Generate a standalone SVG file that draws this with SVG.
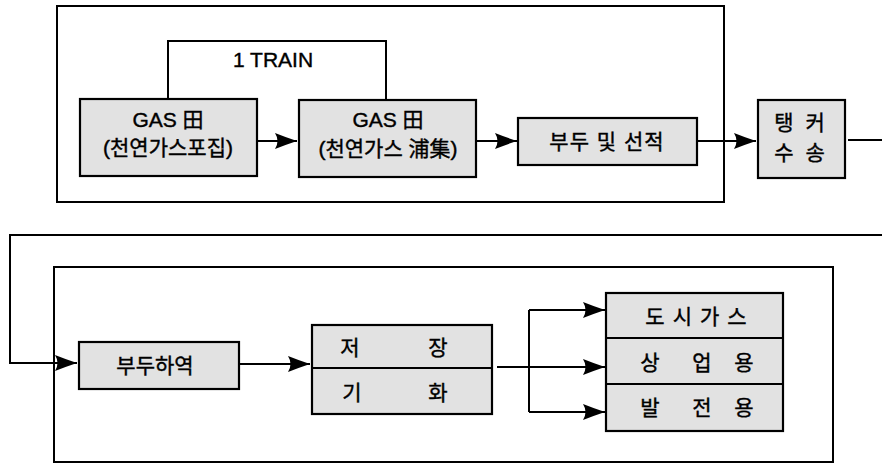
<svg xmlns="http://www.w3.org/2000/svg" width="882" height="465" viewBox="0 0 882 465">
<defs>
<style>
.frame{fill:none;stroke:#000;stroke-width:2}
.box{fill:#e2e2e2;stroke:#000;stroke-width:2.2}
.ln{fill:none;stroke:#000;stroke-width:2}
.t{font-family:"Liberation Sans","Noto Sans CJK KR",sans-serif;font-size:21px;fill:#000;stroke:#000;stroke-width:0.4;text-anchor:middle}
</style>
<marker id="ah" markerUnits="userSpaceOnUse" markerWidth="24" markerHeight="18" refX="22" refY="9" orient="auto">
<path d="M0,1 Q10,5 22,9 Q10,13 0,17 Q5,9 0,1 z" fill="#000"/>
</marker>
</defs>
<rect width="882" height="465" fill="#fff"/>
<g id="frames">
<rect class="frame" x="57" y="6" width="667" height="196"/>
<rect class="frame" x="54" y="267" width="779" height="195"/>
</g>
<g id="connectors">
<path class="ln" d="M168,99 V41 H386 V100"/>
<line class="ln" x1="257" y1="141" x2="297" y2="141" marker-end="url(#ah)"/>
<line class="ln" x1="477" y1="141" x2="517" y2="141" marker-end="url(#ah)"/>
<line class="ln" x1="697" y1="141" x2="756" y2="141" marker-end="url(#ah)"/>
<path class="ln" d="M848,140 H882"/>
<path class="ln" d="M882,235 H10 V363 H77" marker-end="url(#ah)"/>
<line class="ln" x1="239" y1="364" x2="310" y2="364" marker-end="url(#ah)"/>
<path class="ln" d="M497,367 H529"/>
<path class="ln" d="M529,310 V412"/>
<line class="ln" x1="529" y1="310" x2="605" y2="310" marker-end="url(#ah)"/>
<line class="ln" x1="529" y1="367" x2="605" y2="367" marker-end="url(#ah)"/>
<line class="ln" x1="529" y1="412" x2="605" y2="412" marker-end="url(#ah)"/>
</g>
<g id="train-label"><text class="t" x="273" y="67">1  TRAIN</text></g>
<g id="n1">
<rect class="box" x="80" y="99" width="177" height="77"/>
<text class="t" x="168" y="127">GAS 田</text>
<text class="t" x="168" y="155">(천연가스포집)</text>
</g>
<g id="n2">
<rect class="box" x="299" y="100" width="177" height="77"/>
<text class="t" x="388" y="127">GAS 田</text>
<text class="t" x="388" y="156">(천연가스 浦集)</text>
</g>
<g id="n3">
<rect class="box" x="518" y="118" width="179" height="47"/>
<text class="t" x="607" y="149" style="letter-spacing:1px">부두 및 선적</text>
</g>
<g id="n4">
<rect class="box" x="758" y="100" width="87" height="78"/>
<text class="t" x="801" y="130" style="letter-spacing:3px">탱 커</text>
<text class="t" x="801" y="160" style="letter-spacing:3px">수 송</text>
</g>
<g id="n5">
<rect class="box" x="79" y="342" width="160" height="47"/>
<text class="t" x="155" y="373">부두하역</text>
</g>
<g id="n6">
<rect class="box" x="312" y="325" width="180" height="89"/>
<line class="ln" x1="312" y1="368" x2="492" y2="368"/>
<text class="t" x="350" y="355">저</text>
<text class="t" x="438" y="355">장</text>
<text class="t" x="352" y="400">기</text>
<text class="t" x="438" y="400">화</text>
</g>
<g id="n7">
<rect class="box" x="606" y="293" width="177" height="138"/>
<line class="ln" x1="606" y1="338" x2="783" y2="338"/>
<line class="ln" x1="606" y1="384" x2="783" y2="384"/>
<text class="t" x="700" y="324" style="letter-spacing:8px">도시가스</text>
<text class="t" x="650" y="370">상</text>
<text class="t" x="702" y="370">업</text>
<text class="t" x="744" y="370">용</text>
<text class="t" x="650" y="415">발</text>
<text class="t" x="702" y="415">전</text>
<text class="t" x="744" y="415">용</text>
</g>
</svg>
